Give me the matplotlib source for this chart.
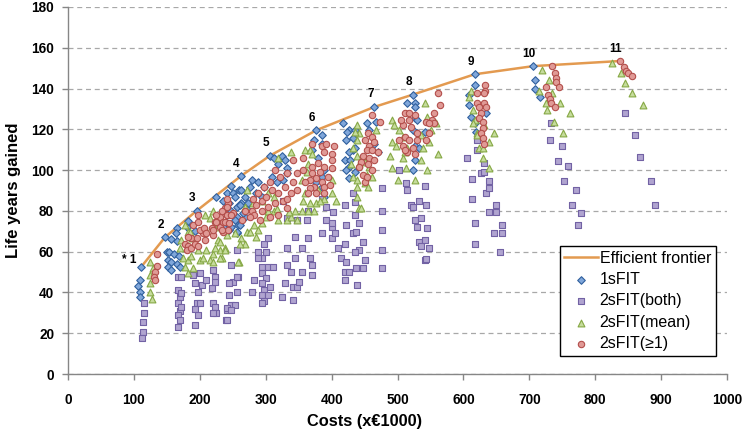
import matplotlib
matplotlib.use("Agg")
import matplotlib.pyplot as plt

plt.rcParams['font.family'] = ['Liberation Sans', 'DejaVu Sans']

# Efficient frontier points (cost x1000 EUR, life years gained)
frontier_x = [111, 147, 195, 262, 306, 377, 465, 523, 617, 706, 837]
frontier_y = [52.5, 67, 80, 97, 107, 119.6, 131, 137, 147, 151, 153.5]
frontier_labels = ["* 1", "2", "3", "4", "5", "6", "7", "8", "9", "10", "11"]

# 1sFIT
fit1 = [(111,52.5),(109,46),(106,43),(109,40),(110,38),
        (147,67),(156,66),(166,71.5),(164,69),(166,65),(150,60),(154,60),(161,59),(168,58),(152,56),(157,55),(165,54),(152,52.5),(157,51),(170,52.5),(180,72),
        (195,80),(182,75),(192,70),(225,87),(235,85),(241,89),(248,92),(250,89),(260,90),(262,97),(245,84),(256,82),(263,84),(245,70.5),(238,73),(258,73),(268,77),(271,81),(279,95),(253,87),(248,80),(257,77),(242,74),(257,69),(263,90),
        (306,107),(313,106),(324,107),(329,105),(318,103),(332,101),(288,94),(276,91.5),(286,88.7),(294,87),(268,87),(273,84),(261,83),(265,79),(253,75.5),(248,72),(261,73),(256,69.6),(298,91.7),(309,96.6),(317,94),(326,95),(333,98.5),
        (377,119.6),(385,117),(374,114.7),(385,113),(371,110),(379,106),(389,100),(385,96.7),(377,94),(385,91.7),(389,87),
        (418,123),(427,119.6),(422,114.7),(420,105),(432,110),(427,101.5),(435,99),(424,118.6),(427,109),(422,100),(427,96),(432,115.7),(436,119.6),(435,110.8),(428,105),(453,123),(457,119.6),(465,131),(468,123.5),(470,108.8),(465,113),
        (523,137),(515,133),(526,132.8),(527,131),(526,125.5),(530,124.5),(523,119.6),(529,118),(541,118.6),(526,112),(532,111),(526,105),(523,100),
        (617,147),(618,141.7),(609,137),(609,132),(612,126),(617,123),(619,118.6),(635,128),
        (706,151),(708,144),(709,140),(716,136)]

# 2sFIT(both)
fit2_both = [(116,35),(116,30),(114,25.5),(114,20.6),(113,17.6),
        (167,47.5),(172,47.5),(167,41),(170,38),(167,35),(170,31),(167,29),(170,26.5),(167,23),(172,39.7),(171,33),
        (192,44.6),(197,40),(195,34.8),(192,32),(197,29),(192,24),(200,34.8),(190,48.5),(200,49.5),(203,43.6),(210,46),(220,51),(223,47.5),(218,42),(220,35),(223,33),(225,30),(223,45),(220,29.9),
        (239,26.5),(242,31.4),(248,33.8),(245,38.7),(253,33.8),(250,45),(248,53.4),(258,47.5),(256,40),(256,61),(245,44.6),(256,47.5),(241,32.4),(248,31.4),(241,26.5),
        (288,60),(295,57),(301,60),(294,52.5),(295,49.5),(301,47),(294,44.6),(298,41),(295,38.7),(298,36),(295,34.8),(303,38.7),(306,42.6),(288,57),(303,52.5),(298,64),(303,66.6),(311,52.5),(279,40),(283,46),
        (324,37.7),(329,44.6),(332,53.4),(339,50),(344,57),(344,67),(355,62),(348,75.5),(341,42.6),(347,42.6),(351,45),(341,36.3),(355,50),(364,66.6),(367,57),(370,53.4),(371,48.5),(362,75.5),(364,80),(326,85),(332,76.5),(333,61.8),
        (386,86),(392,82),(392,75.5),(400,72),(401,66.6),(386,69),
        (420,83),(402,79.6),(400,74),(405,69),(409,61.8),(422,73),(435,78),(442,74),(432,69),(437,69.6),(447,64.7),(442,60.8),(435,60),(420,64),(415,57),(422,55),(420,50),(427,50),(437,52),(447,52),(450,56),(439,43.6),(420,46),(432,88.7),(435,84.3),(477,80),(476,70.5),(476,52),(476,91),(477,60.8),
        (503,100),(513,93.6),(515,90),(521,82.8),(523,82),(533,85),(544,82.8),(526,75.5),(530,72),(536,76.5),(545,71.6),(533,64.7),(536,63),(541,65.7),(548,62),(541,56),(544,56.3),(542,92),
        (605,106),(613,95.6),(613,85.8),(617,74),(617,64),(627,98.5),(632,99),(635,88.7),(639,91),(639,94.6),(650,83),(639,79.4),(650,79.4),(658,73),(647,69),(659,69),(655,60),(620,114.7),(620,110),(632,103.4),
        (733,123),(732,115),(750,111.8),(744,104.4),(758,102),(753,94.6),(771,90),(765,83),(778,79),(774,73),
        (845,128),(861,117),(868,106.4),(885,94.6),(891,83)]

# 2sFIT(mean)
fit2_mean = [(125,55),(129,52),(124,48.5),(125,44.6),(124,40),(128,37),
        (172,65.7),(170,61.8),(175,57),(182,56),(187,58),(177,52.5),(182,49.5),(190,52),(200,56),(205,57),(210,61),(197,61),(215,56),(220,59),(177,73),(182,69.6),(208,78),(215,76.5),(220,80),(223,74),(210,70.5),(227,72),(230,61),(233,57),(238,61.8),(227,65.7),(223,62),(230,57),(238,61),(220,55),(260,55),(268,64),(271,69.6),(263,66.6),(253,69),(241,68),(230,64.7),(188,66.6),(185,69.6),(271,90),
        (261,64),(258,55),(276,69.6),(283,73),(288,70.5),(294,74),(286,67),(301,77),(312,80),(318,75.5),(317,81),(303,80),(332,75.5),(339,77),(347,75.5),(344,80),(336,79.4),(355,80),(356,85),(359,89),(355,95),(362,99),(364,103),(359,110),(367,110),(371,108),(377,84),(374,80),(364,80),(367,84),(379,90),(389,86),(400,89),(406,85),(400,95),(382,85),(318,106),(339,108.8),(303,88.7),(294,85),(312,87),(268,82),(280,84),
        (439,122),(442,118),(435,118.6),(439,114.7),(432,111),(439,107),(430,103),(442,103),(432,96.6),(439,95),(453,97.5),(461,96.6),(450,93.6),(455,91.7),(438,91.7),(439,86.8),(442,81.4),(445,81.4),(468,119.6),(450,104),(457,101.5),
        (492,124.5),(495,122),(503,119.6),(491,113.7),(498,112),(488,107),(508,106),(511,109),(492,101),(513,101),(500,95),(526,95),(536,105),(541,133),(545,126),(536,117),(548,113.7),(538,110.8),(545,100),(561,108),(551,119.6),(558,123),(508,116),(515,111),
        (612,139),(609,136),(614,129.4),(617,124.5),(614,123),(621,118),(632,122),(620,117),(624,111),(629,111),(639,113.7),(647,118),(629,106),(639,101),
        (720,149),(730,144),(715,139),(735,138),(726,133),(747,133),(727,129.4),(762,128),(738,123.5),(751,118),
        (826,152.5),(839,147.5),(845,142.6),(856,137.7),(873,132)]

# 2sFIT(>=1)
fit2_ge1 = [(135,59),(135,53),(132,50),(130,47.5),(132,46),
        (177,64),(182,63),(180,61),(187,61.8),(192,64),(187,66.6),(195,66.6),(197,63),(182,67),(205,69),(200,70.5),(208,65.7),(190,73),(197,74.5),(197,78),(218,71.6),(220,68),(223,74.5),(230,72),(230,77),(235,74.5),(238,81.4),(241,78),(225,78),(235,69.6),(243,70.5),(243,84),(207,71.6),(220,70.5),(225,74.5),(233,80),(242,78),(238,74.5),(233,70.5),(250,79),(241,86),(210,69),
        (288,88.7),(294,85),(280,86),(286,83),(279,80),(295,80),(303,82),(301,87),(309,90),(314,84),(318,88.7),(298,91.7),(306,94),(321,96.6),(332,98.5),(329,91.7),(326,85),(333,86),(341,94),(339,89),(347,98.5),(348,90),(333,81.4),(318,78),(306,77),(291,75.5),(283,78),(276,77),(268,80),(264,75.5),(248,78),(245,74),(242,82),(356,100),(314,100),(341,105),(356,106),
        (371,113),(385,112),(392,113),(403,112),(389,109),(400,108),(400,105),(379,103.4),(371,101.5),(389,101.5),(382,99),(370,98.5),(400,101),(377,96),(367,95),(385,94),(394,96.6),(374,91.7),(367,91),(389,91.7),(397,92.6),(377,89),(389,88.7),(359,94),(364,88.7),
        (462,127),(473,123.5),(455,118),(461,116),(450,114.7),(457,112),(465,113.7),(453,110),(462,110),(447,107),(457,106),(445,104),(455,103),(442,101.5),(461,100),(447,97.5),(450,94),(470,108.8),(465,105),(453,96.6),
        (511,127.9),(518,124.5),(526,127),(508,122),(521,121),(529,118),(511,116),(518,114.7),(508,112),(523,111),(515,108.8),(526,108),(544,123.5),(553,124.5),(556,128),(564,131.8),(561,137.7),(556,123),(548,123),(518,128),(506,124.5),(503,114.7),(512,110),(530,114.7),(544,114.7),(548,118),
        (633,141.7),(633,139),(632,137.7),(620,137.7),(621,133),(632,133),(624,131),(635,131),(627,128),(624,125.5),(629,123.5),(629,120.6),(627,118),(629,115.7),(632,113),
        (735,151),(739,147.5),(741,145),(741,143),(745,141),(726,140.7),(729,137),(732,134.8),(733,132.8),(739,131),
        (837,153.5),(844,150.5),(847,148.5),(850,147.5),(856,146)]

x_ticks = list(range(0, 1001, 100))
y_ticks = list(range(0, 181, 20))

fig = plt.figure(figsize=(7.5, 4.36), dpi=100)
ax = fig.add_axes([68/750, 62/436, 659/750, 367/436])

ax.plot(frontier_x, frontier_y, color='#E39A50', lw=1.8, zorder=3, label='Efficient frontier')

def sc(pts, marker, fc, ec, s, label):
    xs = [p[0] for p in pts]
    ys = [p[1] for p in pts]
    ax.scatter(xs, ys, marker=marker, s=s, facecolor=fc, edgecolor=ec, linewidths=0.8, zorder=4, label=label)

sc(fit1, 'D', '#7fa6da', '#30609e', 15, '1sFIT')
sc(fit2_both, 's', '#b0a4d0', '#7262a4', 19, '2sFIT(both)')
sc(fit2_mean, '^', '#c6dc9c', '#86a845', 24, '2sFIT(mean)')
sc(fit2_ge1, 'o', '#e09a96', '#b34e4b', 21, '2sFIT(\u22651)')

for lab, fx, fy in zip(frontier_labels, frontier_x, frontier_y):
    if lab.startswith('*'):
        ax.annotate(lab, (fx, fy), xytext=(-3, 5), textcoords='offset points',
                    ha='right', va='center', fontsize=8.5, fontweight='bold', zorder=6)
    else:
        ax.annotate(lab, (fx, fy), xytext=(-3, 9), textcoords='offset points',
                    ha='center', va='center', fontsize=8.5, fontweight='bold', zorder=6)

ax.set_xlim(0, 1000)
ax.set_ylim(0, 180)
ax.set_xticks(x_ticks)
ax.set_yticks(y_ticks)
ax.tick_params(axis='both', labelsize=9.8, direction='out', length=4, color='#868686', width=1)
ax.tick_params(axis='x', pad=10)
ax.tick_params(axis='y', pad=6)
for t in ax.get_xticklabels() + ax.get_yticklabels():
    t.set_fontweight('bold')

for side in ['top', 'right']:
    ax.spines[side].set_visible(False)
for side in ['left', 'bottom']:
    ax.spines[side].set_color('#868686')
    ax.spines[side].set_linewidth(1)

ax.yaxis.grid(True, linestyle=(0, (4, 3)), color='#a8a8a8', lw=0.9)
ax.set_axisbelow(True)

ax.set_xlabel('Costs (x\u20ac1000)', fontsize=11.8, fontweight='bold')
ax.xaxis.set_label_coords((365 - 68) / 659, -0.108)
ax.set_ylabel('Life years gained', fontsize=12, fontweight='bold')
ax.yaxis.set_label_coords(-0.072, 0.5)

leg = ax.legend(loc='lower right', bbox_to_anchor=(0.983, 0.049), fontsize=11.5,
                frameon=True, fancybox=False, borderaxespad=0, borderpad=0.3,
                handlelength=2.1, handletextpad=0.1, labelspacing=0.4, scatterpoints=1)
leg.get_frame().set_edgecolor('black')
leg.get_frame().set_linewidth(1)
leg.get_frame().set_alpha(1)

fig.savefig('out.png', dpi=100)
